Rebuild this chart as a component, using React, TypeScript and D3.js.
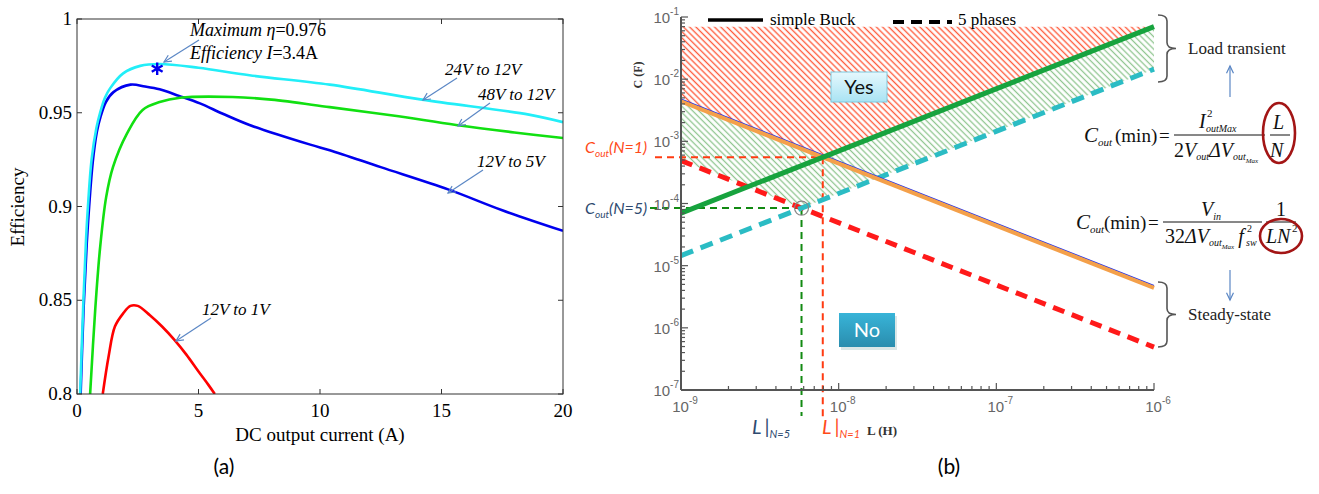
import React from 'react';
import * as d3 from 'd3';

// ---------- Panel (a) data ----------
const currentTicks = [0, 5, 10, 15, 20];
const effTicks = [0.8, 0.85, 0.9, 0.95, 1];
const effTickLabels = ['0.8', '0.85', '0.9', '0.95', '1'];

const cur24to12 = [0.13, 0.25, 0.37, 0.45, 0.6, 0.8, 0.95, 1.15, 1.36, 1.9, 2.6, 3.4, 5, 7.1, 10.4, 14.2, 18.6, 20];
const eff24to12 = [0.8, 0.845, 0.882, 0.9, 0.925, 0.942, 0.95, 0.958, 0.963, 0.971, 0.975, 0.976, 0.974, 0.97, 0.965, 0.957, 0.949, 0.945];

const cur12to5 = [0.15, 0.27, 0.4, 0.5, 0.65, 0.82, 0.97, 1.2, 1.5, 2.2, 2.8, 3.4, 4.2, 5.06, 6, 7.1, 9.6, 10.4, 12.5, 15.3, 17.5, 20];
const eff12to5 = [0.8, 0.845, 0.88, 0.9, 0.924, 0.94, 0.948, 0.956, 0.961, 0.965, 0.964, 0.9625, 0.959, 0.955, 0.9495, 0.9435, 0.933, 0.93, 0.921, 0.909, 0.898, 0.887];

const cur48to12 = [0.54, 0.75, 0.95, 1.2, 1.48, 2.06, 2.7, 3.4, 4.24, 6.4, 8, 10.4, 13, 15.6, 18, 20];
const eff48to12 = [0.8, 0.845, 0.878, 0.905, 0.921, 0.939, 0.9515, 0.9557, 0.958, 0.9584, 0.957, 0.953, 0.9485, 0.9435, 0.9395, 0.9365];

const cur12to1 = [1.06, 1.3, 1.56, 1.9, 2.2, 2.5, 3.0, 3.5, 4.0, 4.5, 5.0, 5.4, 5.67];
const eff12to1 = [0.8, 0.82, 0.836, 0.843, 0.847, 0.847, 0.842, 0.836, 0.829, 0.821, 0.812, 0.805, 0.8];

const maxPointI = 3.3;
const maxPointEff = 0.9735;

// ---------- Panel (b) data ----------
const inductance = [1e-9, 1e-6];
const loadSimple = [7e-5, 7e-2]; // C ~ L/N, N=1 (green solid)
const load5 = [1.45e-5, 1.45e-2]; // N=5 (cyan dashed)
const steadySimple = [4.4e-3, 4.4e-6]; // C ~ 1/(L N^2), N=1 (orange solid)
const steady5 = [4.9e-4, 4.9e-7]; // N=5 (red dashed)
const hatchTop = 7e-2;
const lTickExps = [-9, -8, -7, -6];
const cTickExps = [-7, -6, -5, -4, -3, -2, -1];

// ---------- scales ----------
const xA = d3.scaleLinear().domain([0, 20]).range([77, 563]);
const yA = d3.scaleLinear().domain([0.8, 1]).range([394, 19]);
const xB = d3.scaleLog().domain([1e-9, 1e-6]).range([681, 1154]);
const yB = d3.scaleLog().domain([1e-7, 1e-1]).range([390, 17]);

const lineA = d3.line<[number, number]>().x(d => xA(d[0])).y(d => yA(d[1])).curve(d3.curveCatmullRom.alpha(0.5));
const zip = (a: number[], b: number[]) => a.map((v, i) => [v, b[i]] as [number, number]);

const lineB = d3.line<[number, number]>().x(d => xB(d[0])).y(d => yB(d[1]));

const lg = Math.log10;
const evalLine = (ys: number[], L: number) => {
  const t = (lg(L) - lg(inductance[0])) / (lg(inductance[1]) - lg(inductance[0]));
  return Math.pow(10, lg(ys[0]) + t * (lg(ys[1]) - lg(ys[0])));
};
const crossL = (a: number[], b: number[]) => {
  const d0 = lg(a[0]) - lg(b[0]);
  const d1 = lg(a[1]) - lg(b[1]);
  const t = d0 / (d0 - d1);
  return Math.pow(10, lg(inductance[0]) + t * (lg(inductance[1]) - lg(inductance[0])));
};
const L1 = crossL(loadSimple, steadySimple);
const C1 = evalLine(loadSimple, L1);
const L5 = crossL(load5, steady5);
const C5 = evalLine(load5, L5);

const upperPts: [number, number][] = [inductance[0], L1, inductance[1]].map(L => [L, Math.max(evalLine(loadSimple, L), evalLine(steadySimple, L))]);
const lowerPts: [number, number][] = [inductance[0], L5, inductance[1]].map(L => [L, Math.max(evalLine(load5, L), evalLine(steady5, L))]);
const toPts = (p: [number, number][]) => p.map(d => `${xB(d[0])},${yB(d[1])}`).join(' ');
const redPoly = toPts([[inductance[0], hatchTop], [inductance[1], hatchTop], ...upperPts.slice().reverse()]);
const greenPoly = toPts([...upperPts, ...lowerPts.slice().reverse()]);

function Arrow({ x1, y1, x2, y2, color = '#5b87c5', head = 8 }: any) {
  const a = Math.atan2(y2 - y1, x2 - x1);
  const w = 0.45;
  const p1 = [x2 - head * Math.cos(a - w), y2 - head * Math.sin(a - w)];
  const p2 = [x2 - head * Math.cos(a + w), y2 - head * Math.sin(a + w)];
  return (
    <g stroke={color} strokeWidth={1.2} fill="none">
      <line x1={x1} y1={y1} x2={x2} y2={y2} />
      <polyline points={`${p1[0]},${p1[1]} ${x2},${y2} ${p2[0]},${p2[1]}`} />
    </g>
  );
}

function Brace({ x, y0, y1, w }: any) {
  const ym = (y0 + y1) / 2;
  const s = x + w / 2;
  const r = 6;
  const d = `M${x},${y0} Q${s},${y0} ${s},${y0 + r} L${s},${ym - r} Q${s},${ym} ${x + w},${ym} Q${s},${ym} ${s},${ym + r} L${s},${y1 - r} Q${s},${y1} ${x},${y1}`;
  return <path d={d} fill="none" stroke="#555" strokeWidth={1.6} />;
}

const serif = 'Liberation Serif, Times New Roman, serif';
const sans = 'Liberation Sans, Arial, sans-serif';
const cal = 'Lato, Open Sans, sans-serif';

export default function App() {
  const series = [
    { c: cur12to5, e: eff12to5, color: '#0000ee' },
    { c: cur48to12, e: eff48to12, color: '#11e011' },
    { c: cur24to12, e: eff24to12, color: '#22eef8' },
    { c: cur12to1, e: eff12to1, color: '#ff0000' },
  ];
  const yMinor: number[] = [];
  for (let e = -7; e < -1; e++) for (let m = 2; m <= 9; m++) yMinor.push(m * Math.pow(10, e));
  const xMinor: number[] = [];
  for (let e = -9; e < -6; e++) for (let m = 2; m <= 9; m++) xMinor.push(m * Math.pow(10, e));

  return (
    <svg width={1319} height={494} style={{ position: 'absolute', left: 0, top: 0, background: '#fff' }} fontFamily={serif}>
      <defs>
        <clipPath id="clipA"><rect x={77} y={19} width={486} height={375} /></clipPath>
        <pattern id="hatchRed" width={4.4} height={4.4} patternUnits="userSpaceOnUse" patternTransform="rotate(-45)">
          <line x1={2.2} y1={0} x2={2.2} y2={4.4} stroke="#ff5a3a" strokeWidth={1.35} />
        </pattern>
        <pattern id="hatchGreen" width={4.4} height={4.4} patternUnits="userSpaceOnUse" patternTransform="rotate(-45)">
          <line x1={2.2} y1={0} x2={2.2} y2={4.4} stroke="#8fc58f" strokeWidth={1.3} />
        </pattern>
        <linearGradient id="yesGrad" x1="0" y1="0" x2="0" y2="1">
          <stop offset="0" stopColor="#e6f8fd" />
          <stop offset="1" stopColor="#a9e3f3" />
        </linearGradient>
        <linearGradient id="noGrad" x1="0" y1="0" x2="0" y2="1">
          <stop offset="0" stopColor="#38b4d8" />
          <stop offset="1" stopColor="#2a8dae" />
        </linearGradient>
      </defs>

      {/* ================= Panel (a) ================= */}
      <g clipPath="url(#clipA)">
        {series.map((s, i) => (
          <path key={i} d={lineA(zip(s.c, s.e)) || ''} fill="none" stroke={s.color} strokeWidth={2.6} strokeLinejoin="round" />
        ))}
      </g>
      <rect x={77} y={19} width={486} height={375} fill="none" stroke="#333" strokeWidth={1} />
      {currentTicks.map(t => (
        <g key={'xt' + t}>
          <line x1={xA(t)} x2={xA(t)} y1={394} y2={389} stroke="#333" />
          <line x1={xA(t)} x2={xA(t)} y1={19} y2={24} stroke="#333" />
          <text x={xA(t)} y={417} fontSize={19} textAnchor="middle">{t}</text>
        </g>
      ))}
      {effTicks.map((t, i) => (
        <g key={'yt' + t}>
          <line x1={77} x2={82} y1={yA(t)} y2={yA(t)} stroke="#333" />
          <line x1={563} x2={558} y1={yA(t)} y2={yA(t)} stroke="#333" />
          <text x={72} y={yA(t) + 6} fontSize={19} textAnchor="end">{effTickLabels[i]}</text>
        </g>
      ))}
      <text x={320} y={441} fontSize={19} textAnchor="middle">DC output current (A)</text>
      <text transform="translate(24,207) rotate(-90)" fontSize={19} textAnchor="middle">Efficiency</text>

      {/* max marker */}
      <path transform={`translate(${xA(maxPointI)},${yA(maxPointEff)})`} d={d3.symbol(d3.symbolAsterisk, 110)() || ''} stroke="#0000ee" strokeWidth={2.4} fill="none" />
      <text x={190} y={36} fontSize={18}>
        <tspan fontStyle="italic">Maximum </tspan>
        <tspan fontStyle="italic">η</tspan>
        <tspan>=0.976</tspan>
      </text>
      <text x={190} y={59} fontSize={18}>
        <tspan fontStyle="italic">Efficiency </tspan>
        <tspan fontStyle="italic">I</tspan>
        <tspan>=3.4A</tspan>
      </text>
      <Arrow x1={199} y1={40} x2={164} y2={62} />

      <text x={445} y={75} fontSize={17} fontStyle="italic">24V to 12V</text>
      <Arrow x1={457} y1={78} x2={423} y2={100} />
      <text x={478} y={100} fontSize={17} fontStyle="italic">48V to 12V</text>
      <Arrow x1={490} y1={103} x2={458} y2={126} />
      <text x={477} y={167} fontSize={17} fontStyle="italic">12V to 5V</text>
      <Arrow x1={483} y1={170} x2={448} y2={193} />
      <text x={202} y={315} fontSize={17} fontStyle="italic">12V to 1V</text>
      <Arrow x1={211} y1={318} x2={176} y2={341} />

      <text x={224} y={474} fontSize={21} fontFamily={cal} textAnchor="middle">(a)</text>

      {/* ================= Panel (b) ================= */}
      <polygon points={redPoly} fill="url(#hatchRed)" />
      <polygon points={greenPoly} fill="url(#hatchGreen)" />

      {/* legend */}
      <line x1={708} x2={763} y1={20} y2={20} stroke="#000" strokeWidth={3.5} />
      <text x={770} y={25} fontSize={17}>simple Buck</text>
      <line x1={893} x2={952} y1={22} y2={22} stroke="#000" strokeWidth={4} strokeDasharray="11 7" />
      <text x={958} y={25} fontSize={17}>5 phases</text>

      {/* reference dashed guides */}
      <line x1={655} x2={xB(L1)} y1={yB(C1)} y2={yB(C1)} stroke="#ff3b12" strokeWidth={2} strokeDasharray="7 5" />
      <line x1={xB(L1)} x2={xB(L1)} y1={yB(C1)} y2={418} stroke="#ff3b12" strokeWidth={2} strokeDasharray="7 5" />
      <line x1={650} x2={xB(L5)} y1={yB(C5)} y2={yB(C5)} stroke="#128a12" strokeWidth={2} strokeDasharray="7 5" />
      <line x1={xB(L5)} x2={xB(L5)} y1={yB(C5)} y2={416} stroke="#128a12" strokeWidth={2} strokeDasharray="7 5" />

      {/* curves */}
      <path d={lineB(zip(inductance, steady5)) || ''} stroke="#ff1a1a" strokeWidth={5} strokeDasharray="12 8" fill="none" />
      <path d={lineB(zip(inductance, load5)) || ''} stroke="#2bbcc4" strokeWidth={5} strokeDasharray="13 8" fill="none" />
      <path d={lineB(zip(inductance, steadySimple)) || ''} transform="translate(0,-2.2)" stroke="#2233ee" strokeWidth={1.5} fill="none" />
      <path d={lineB(zip(inductance, steadySimple)) || ''} stroke="#f4a04a" strokeWidth={4.2} fill="none" />
      <path d={lineB(zip(inductance, loadSimple)) || ''} stroke="#17a33e" strokeWidth={5} fill="none" />
      <circle cx={xB(L5)} cy={yB(C5)} r={7} fill="none" stroke="#888" strokeWidth={1.2} />

      {/* axes */}
      <line x1={681} x2={681} y1={17} y2={390} stroke="#555" strokeWidth={2} />
      <line x1={681} x2={1154} y1={390} y2={390} stroke="#555" strokeWidth={2} />
      {yMinor.map((v, i) => (
        <line key={'ym' + i} x1={681} x2={685} y1={yB(v)} y2={yB(v)} stroke="#555" strokeWidth={1.2} />
      ))}
      {cTickExps.map(e => (
        <g key={'yc' + e}>
          <line x1={681} x2={688} y1={yB(Math.pow(10, e))} y2={yB(Math.pow(10, e))} stroke="#555" strokeWidth={1.2} />
          <text x={679} y={yB(Math.pow(10, e)) + 6} fontSize={15} fontFamily={sans} fill="#666" textAnchor="end">
            10<tspan fontSize={10} dy={-8}>{e}</tspan>
          </text>
        </g>
      ))}
      {xMinor.map((v, i) => (
        <line key={'xm' + i} x1={xB(v)} x2={xB(v)} y1={390} y2={386} stroke="#555" strokeWidth={1.2} />
      ))}
      {lTickExps.map(e => (
        <g key={'xl' + e}>
          <line x1={xB(Math.pow(10, e))} x2={xB(Math.pow(10, e))} y1={390} y2={383} stroke="#555" strokeWidth={1.2} />
          <text x={xB(Math.pow(10, e)) + 4} y={412} fontSize={15} fontFamily={sans} fill="#666" textAnchor="middle">
            10<tspan fontSize={10} dy={-8}>{e}</tspan>
          </text>
        </g>
      ))}
      <text transform="translate(642,75) rotate(-90)" fontSize={12} fontWeight="bold" textAnchor="middle" fill="#333">C (F)</text>
      <text x={867} y={435} fontSize={13} fontWeight="bold" fill="#333">L (H)</text>

      {/* Cout labels */}
      <text x={585} y={153} fontSize={16} fontFamily={cal} fontStyle="italic" fill="#ff4a1a">
        C<tspan fontSize={10} dy={4}>out</tspan><tspan dy={-4}>(N=1)</tspan>
      </text>
      <text x={585} y={214} fontSize={16} fontFamily={cal} fontStyle="italic" fill="#2e4a70">
        C<tspan fontSize={10} dy={4}>out</tspan><tspan dy={-4}>(N=5)</tspan>
      </text>
      {/* L labels */}
      <text x={752} y={434} fontSize={20} fontFamily={cal} fontStyle="italic" fill="#2e4a70">
        L<tspan dx={3} fontStyle="normal">|</tspan><tspan fontSize={11} dy={4}>N=5</tspan>
      </text>
      <text x={822} y={434} fontSize={20} fontFamily={cal} fontStyle="italic" fill="#ff4a1a">
        L<tspan dx={3} fontStyle="normal">|</tspan><tspan fontSize={11} dy={4}>N=1</tspan>
      </text>

      {/* Yes / No boxes */}
      <rect x={831} y={72} width={56} height={30} fill="url(#yesGrad)" stroke="#7cc8de" strokeWidth={1} />
      <text x={859} y={94} fontSize={20} fontFamily={cal} textAnchor="middle" fill="#111">Yes</text>
      <rect x={841} y={316} width={56} height={34} fill="#9bb" opacity={0.35} />
      <rect x={839} y={313} width={56} height={34} fill="url(#noGrad)" />
      <text x={867} y={337} fontSize={20} fontFamily={cal} textAnchor="middle" fill="#fff">No</text>

      {/* braces and labels */}
      <Brace x={1158} y0={15} y1={82} w={18} />
      <text x={1188} y={54} fontSize={17} fill="#222">Load transient</text>
      <Arrow x1={1230} y1={97} x2={1230} y2={66} />
      <Brace x={1158} y0={282} y1={347} w={18} />
      <text x={1188} y={320} fontSize={17} fill="#222">Steady-state</text>
      <Arrow x1={1230} y1={270} x2={1230} y2={300} />

      {/* Equation 1 */}
      <g fill="#111">
        <text x={1084} y={142} fontSize={21} fontStyle="italic">C<tspan fontSize={11} dy={4}>out</tspan></text>
        <text x={1115} y={142} fontSize={19}>(min)</text>
        <text x={1159} y={142} fontSize={19}>=</text>
        <text x={1199} y={128} fontSize={20} fontStyle="italic">I</text>
        <text x={1207} y={117} fontSize={11}>2</text>
        <text x={1206} y={132} fontSize={10} fontStyle="italic">outMax</text>
        <line x1={1174} x2={1265} y1={135} y2={135} stroke="#111" strokeWidth={1} />
        <text x={1174} y={157} fontSize={20}>2<tspan fontStyle="italic">V</tspan><tspan fontSize={10} fontStyle="italic" dy={3}>out</tspan><tspan fontStyle="italic" dy={-3}>ΔV</tspan><tspan fontSize={10} fontStyle="italic" dy={3}>out</tspan><tspan fontSize={7} fontStyle="italic" dy={3}>Max</tspan></text>
        <text x={1273} y={129} fontSize={20} fontStyle="italic">L</text>
        <line x1={1270} x2={1290} y1={135} y2={135} stroke="#111" strokeWidth={1} />
        <text x={1270} y={157} fontSize={20} fontStyle="italic">N</text>
      </g>
      <ellipse cx={1279} cy={133} rx={16} ry={30} fill="none" stroke="#a31515" strokeWidth={2.6} />

      {/* Equation 2 */}
      <g fill="#111">
        <text x={1076} y={229} fontSize={21} fontStyle="italic">C<tspan fontSize={11} dy={4}>out</tspan></text>
        <text x={1104} y={229} fontSize={19}>(min)</text>
        <text x={1148} y={229} fontSize={19}>=</text>
        <text x={1201} y={216} fontSize={20} fontStyle="italic">V<tspan fontSize={10} dy={4}>in</tspan></text>
        <line x1={1163} x2={1262} y1={222} y2={222} stroke="#111" strokeWidth={1} />
        <text x={1165} y={243} fontSize={20}>32<tspan fontStyle="italic">ΔV</tspan><tspan fontSize={10} fontStyle="italic" dy={3}>out</tspan><tspan fontSize={7} fontStyle="italic" dy={3}>Max</tspan><tspan fontStyle="italic" dx={4} dy={-6}>f</tspan></text>
        <text x={1247} y={232} fontSize={10}>2</text>
        <text x={1246} y={246} fontSize={10} fontStyle="italic">sw</text>
        <text x={1276} y={216} fontSize={20}>1</text>
        <line x1={1266} x2={1296} y1={222} y2={222} stroke="#111" strokeWidth={1} />
        <text x={1266} y={243} fontSize={20} fontStyle="italic">LN</text>
        <text x={1292} y={232} fontSize={11}>2</text>
      </g>
      <ellipse cx={1281} cy={236} rx={21} ry={17} fill="none" stroke="#a31515" strokeWidth={2.6} />

      <text x={949} y={474} fontSize={21} fontFamily={cal} textAnchor="middle">(b)</text>
    </svg>
  );
}
